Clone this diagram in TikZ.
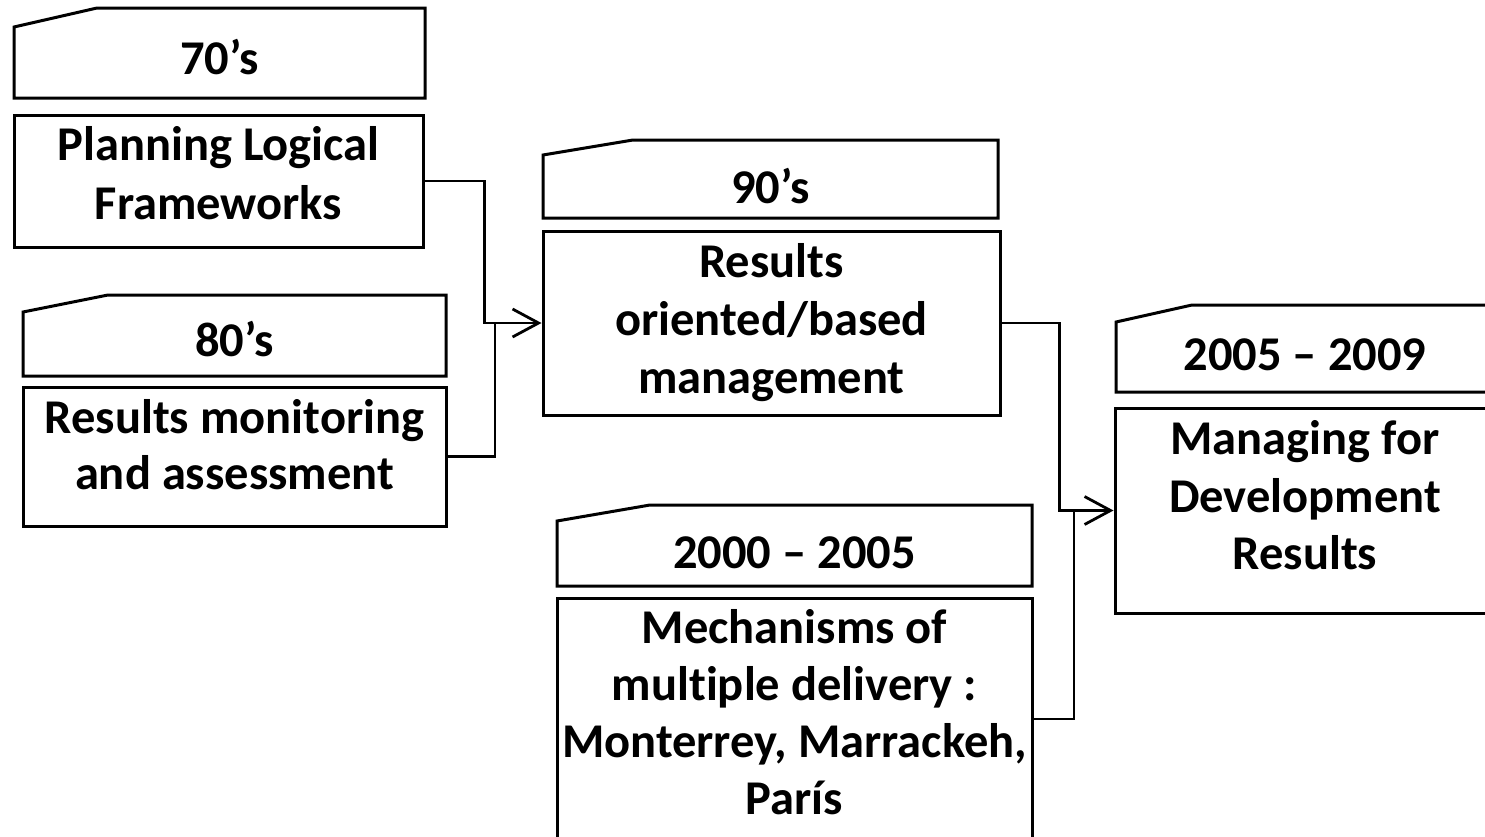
\documentclass[tikz,border=0pt]{standalone}
\usepackage{fontspec}
\setmainfont{Carlito}[Ligatures=NoCommon]
\usetikzlibrary{arrows.meta,calc}
\tikzset{
  bodybox/.style={draw, line width=3pt, rectangle, inner sep=0pt},
  hdrarea/.style={rectangle, inner sep=0pt, outer sep=0pt},
  hdrline/.style={line width=3pt, line join=miter},
  lbl/.style={anchor=base, inner sep=0pt, font=\fontsize{48.5}{58}\selectfont\bfseries},
  conn/.style={line width=2.8pt},
  arr/.style={-{Straight Barb[length=26pt,width=28pt]}}
}
\begin{document}
\begin{tikzpicture}[x=1pt,y=-1pt]
\useasboundingbox (0,0) rectangle (1485,836);
\clip (0,0) rectangle (1485,836);
\fill[white] (0,0) rectangle (1485,836);

% 70's
\node[hdrarea, minimum width=411pt, minimum height=90pt] (h70) at (219.5,53) {};
\draw[hdrline] ($(h70.north west)+(0,19)$) -- ($(h70.north west)+(83,0)$) -- (h70.north east) -- (h70.south east) -- (h70.south west) -- cycle;
\node[lbl] (t70) at (219.5,74) {70’s};
\node[bodybox, minimum width=409pt, minimum height=132pt] (plan) at (218.5,181) {};
\node[lbl] (tplan1) at (218.5,160) {Planning Logical};
\node[lbl] (tplan2) at (218.5,219) {Frameworks};

% 80's
\node[hdrarea, minimum width=423pt, minimum height=81pt] (h80) at (234.5,335.5) {};
\draw[hdrline] ($(h80.north west)+(0,17)$) -- ($(h80.north west)+(85,0)$) -- (h80.north east) -- (h80.south east) -- (h80.south west) -- cycle;
\node[lbl] (t80) at (234.5,356) {80’s};
\node[bodybox, minimum width=423pt, minimum height=139pt] (mon) at (234.5,456.5) {};
\node[lbl] (tmon1) at (234.5,433) {Results monitoring};
\node[lbl] (tmon2) at (234.5,489) {and assessment};

% 90's
\node[hdrarea, minimum width=455pt, minimum height=78pt] (h90) at (770.5,179) {};
\draw[hdrline] ($(h90.north west)+(0,15)$) -- ($(h90.north west)+(90,0)$) -- (h90.north east) -- (h90.south east) -- (h90.south west) -- cycle;
\node[lbl] (t90) at (770.5,203) {90’s};
\node[bodybox, minimum width=457pt, minimum height=184pt] (res) at (771.5,323) {};
\node[lbl] (tres1) at (771.5,277) {Results};
\node[lbl] (tres2) at (771.5,335) {oriented/based};
\node[lbl] (tres3) at (771.5,393) {management};

% 2000 - 2005
\node[hdrarea, minimum width=475pt, minimum height=81pt] (h00) at (794.5,545.5) {};
\draw[hdrline] ($(h00.north west)+(0,16)$) -- ($(h00.north west)+(93,0)$) -- (h00.north east) -- (h00.south east) -- (h00.south west) -- cycle;
\node[lbl] (t00) at (794.5,568) {2000 – 2005};
\node[bodybox, minimum width=475pt, minimum height=242pt] (mech) at (794.5,719) {};
\node[lbl] (tmech1) at (794.5,643) {Mechanisms of};
\node[lbl] (tmech2) at (794.5,700) {multiple delivery :};
\node[lbl] (tmech3) at (794.5,757) {Monterrey, Marrackeh,};
\node[lbl] (tmech4) at (794.5,814) {París};

% 2005 - 2009
\node[hdrarea, minimum width=380pt, minimum height=87pt] (h05) at (1306,348.5) {};
\draw[hdrline] ($(h05.north west)+(0,17)$) -- ($(h05.north west)+(76,0)$) -- (h05.north east) -- (h05.south east) -- (h05.south west) -- cycle;
\node[lbl] (t05) at (1305,370) {2005 – 2009};
\node[bodybox, minimum width=381pt, minimum height=205pt] (mgr) at (1305.5,510.5) {};
\node[lbl] (tmgr1) at (1305,454) {Managing for};
\node[lbl] (tmgr2) at (1305,512) {Development};
\node[lbl] (tmgr3) at (1305,569) {Results};

% connectors
\coordinate (j1) at (495,323);
\coordinate (j2) at (1074,511);
\draw[conn, arr] (plan.east) -- ++(60,0) |- (res.west);
\draw[conn] (mon.east) -| (j1);
\draw[conn, arr] (res.east) -- ++(58,0) |- (mgr.west);
\draw[conn] (mech.east) -| (j2);
\end{tikzpicture}
\end{document}
